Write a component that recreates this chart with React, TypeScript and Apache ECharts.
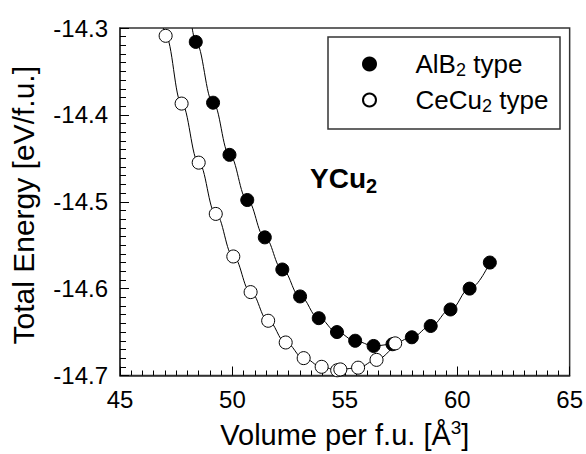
import React, { useEffect, useRef } from "react";
import * as echarts from "echarts";

// AlB2-type structure (filled circles): volume per f.u. [Å^3] and total energy [eV/f.u.]
const volAlB2 = [48.37, 49.14, 49.87, 50.66, 51.44, 52.22, 53.01, 53.84, 54.65, 55.46, 56.28, 57.12, 57.98, 58.82, 59.7, 60.55, 61.45];
const eAlB2 = [-14.316, -14.386, -14.446, -14.498, -14.541, -14.578, -14.609, -14.634, -14.65, -14.66, -14.666, -14.664, -14.656, -14.643, -14.624, -14.6, -14.57];

// CeCu2-type structure (open circles)
const volCeCu2 = [47.03, 47.74, 48.5, 49.26, 50.04, 50.81, 51.59, 52.37, 53.17, 53.97, 54.66, 54.8, 55.59, 56.41, 57.24];
const eCeCu2 = [-14.309, -14.387, -14.455, -14.514, -14.563, -14.604, -14.637, -14.662, -14.68, -14.69, -14.694, -14.693, -14.691, -14.682, -14.663];

// where the fitted curves leave the top of the frame
const edgeAlB2 = [48.21, -14.3];
const edgeCeCu2 = [46.93, -14.3];

const seriesNames = ["AlB2 type", "CeCu2 type"];
const legendRich: Record<string, string> = {
  "AlB2 type": "{a|AlB}{s|2}{a| type}",
  "CeCu2 type": "{a|CeCu}{s|2}{a| type}",
};

const xTicks = { min: 45, max: 65, interval: 5 };
const yTicks = { min: -14.7, max: -14.3, interval: 0.1 };

const FONT = "'Liberation Sans', Arial, Helvetica, sans-serif";

export default function App() {
  const ref = useRef<HTMLDivElement>(null);

  useEffect(() => {
    if (!ref.current) return;
    const chart = echarts.init(ref.current, undefined, { renderer: "svg" });

    const pairs = (xs: number[], ys: number[]) => xs.map((x, i) => [x, ys[i]]);
    const alb = pairs(volAlB2, eAlB2);
    const cec = pairs(volCeCu2, eCeCu2);

    chart.setOption({
      animation: false,
      backgroundColor: "#fff",
      textStyle: { fontFamily: FONT, color: "#000" },
      grid: {
        left: 119,
        top: 28,
        width: 452,
        height: 349,
        show: true,
        borderColor: "#333",
        borderWidth: 1.5,
        backgroundColor: "transparent",
      },
      xAxis: {
        type: "value",
        min: xTicks.min,
        max: xTicks.max,
        interval: xTicks.interval,
        name: "{a|Volume per f.u. [Å}{sup|3}{a|]}",
        nameLocation: "middle",
        nameGap: 42,
        nameTextStyle: {
          rich: {
            a: { fontFamily: FONT, fontSize: 29, color: "#000", lineHeight: 34 },
            sup: { fontFamily: FONT, fontSize: 19, color: "#000", lineHeight: 34, verticalAlign: "top" },
          },
        },
        axisLine: { show: true, onZero: false, lineStyle: { color: "#333", width: 1.5 } },
        axisTick: { show: true, inside: true, length: 9, lineStyle: { color: "#000", width: 1 } },
        minorTick: { show: true, splitNumber: 10, length: 5, lineStyle: { color: "#000", width: 1 } },
        axisLabel: { fontFamily: FONT, fontSize: 24, color: "#000", margin: 12, showMaxLabel: true },
        splitLine: { show: false },
      },
      yAxis: {
        type: "value",
        min: yTicks.min,
        max: yTicks.max,
        interval: yTicks.interval,
        name: "Total Energy [eV/f.u.]",
        nameLocation: "middle",
        nameRotate: 90,
        nameGap: 82,
        nameTextStyle: { fontFamily: FONT, fontSize: 30, color: "#000", padding: [0, 7, 0, 0] },
        axisLine: { show: true, onZero: false, lineStyle: { color: "#333", width: 1.5 } },
        axisTick: { show: true, inside: true, length: 9, lineStyle: { color: "#000", width: 1 } },
        minorTick: { show: true, splitNumber: 10, length: 6, lineStyle: { color: "#000", width: 1 } },
        axisLabel: {
          fontFamily: FONT,
          fontSize: 24,
          color: "#000",
          margin: 12,
          formatter: (v: number) => v.toFixed(1),
        },
        splitLine: { show: false },
      },
      legend: {
        data: seriesNames.map((n) => ({ name: n, icon: "circle" })),
        orient: "vertical",
        left: 362,
        top: 51,
        padding: 0,
        itemWidth: 82,
        itemHeight: 13,
        itemGap: 8,
        selectedMode: false,
        formatter: (name: string) => legendRich[name] || name,
        textStyle: {
          rich: {
            a: { fontFamily: FONT, fontSize: 26, color: "#000", lineHeight: 30 },
            s: { fontFamily: FONT, fontSize: 18, color: "#000", lineHeight: 30, verticalAlign: "bottom" },
          },
        },
      },
      graphic: [
        {
          type: "rect",
          shape: { x: 328, y: 37, width: 232, height: 92 },
          style: { fill: "none", stroke: "#333", lineWidth: 1.5 },
          silent: true,
        },
        {
          type: "text",
          left: 310,
          top: 164,
          style: {
            text: "{b|YCu}{s|2}",
            rich: {
              b: { fontFamily: FONT, fontSize: 28, fontWeight: "bold", fill: "#000", lineHeight: 36 },
              s: { fontFamily: FONT, fontSize: 20, fontWeight: "bold", fill: "#000", lineHeight: 36, verticalAlign: "bottom" },
            },
          },
        },
      ],
      series: [
        {
          name: "AlB2 fit",
          type: "line",
          data: [edgeAlB2, ...alb],
          smooth: 0.4,
          smoothMonotone: "x",
          showSymbol: false,
          lineStyle: { color: "#000", width: 1 },
          silent: true,
          z: 1,
        },
        {
          name: "CeCu2 fit",
          type: "line",
          data: [edgeCeCu2, ...cec],
          smooth: 0.4,
          smoothMonotone: "x",
          showSymbol: false,
          lineStyle: { color: "#000", width: 1 },
          silent: true,
          z: 1,
        },
        {
          name: seriesNames[0],
          type: "scatter",
          data: alb,
          symbol: "circle",
          symbolSize: 13,
          itemStyle: { color: "#000", borderColor: "#000", borderWidth: 1, opacity: 1 },
          z: 3,
        },
        {
          name: seriesNames[1],
          type: "scatter",
          data: cec,
          symbol: "circle",
          symbolSize: 13,
          itemStyle: { color: "#fff", borderColor: "#000", borderWidth: 1, opacity: 1 },
          z: 4,
        },
      ],
    });

    return () => chart.dispose();
  }, []);

  return <div ref={ref} style={{ position: "fixed", left: 0, top: 0, width: 586, height: 454 }} />;
}
